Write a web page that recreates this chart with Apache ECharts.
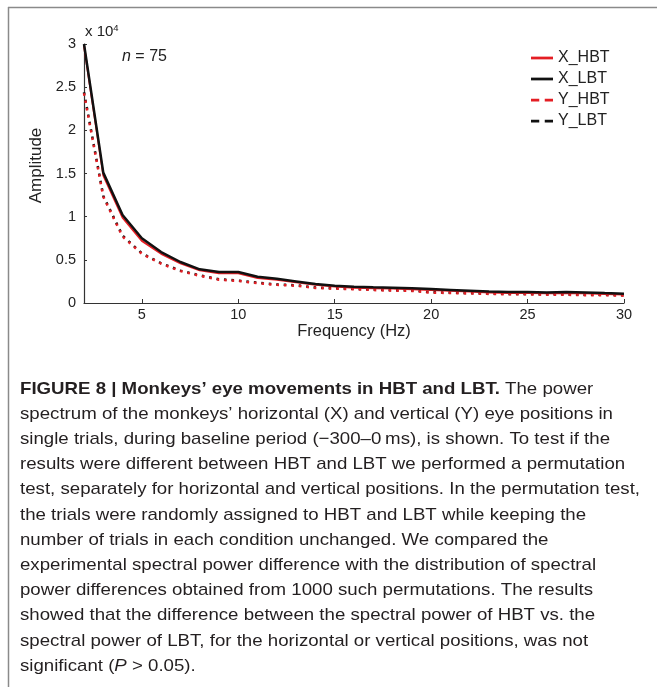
<!DOCTYPE html>
<html>
<head>
<meta charset="utf-8">
<script src="https://cdn.jsdelivr.net/npm/echarts@6/dist/echarts.min.js"></script>
<style>
  html, body { margin: 0; padding: 0; background: #fff; }
  #chart { width: 657px; height: 687px; }
</style>
</head>
<body>
<div id="chart"></div>
<script>
// Frequency bins (Hz)
const freq = [2, 3, 4, 5, 6, 7, 8, 9, 10, 11, 12, 13, 14, 15, 16, 17, 18, 19, 20, 21, 22, 23, 24, 25, 26, 27, 28, 29, 30];

// Spectral amplitude, in units of 10^4
const xHBT = [2.98, 1.48, 0.99, 0.72, 0.57, 0.46, 0.38, 0.345, 0.345, 0.29, 0.27, 0.24, 0.21, 0.19, 0.178, 0.172, 0.167, 0.16, 0.152, 0.142, 0.132, 0.122, 0.117, 0.117, 0.113, 0.117, 0.113, 0.105, 0.098];
const xLBT = [3.00, 1.51, 1.02, 0.75, 0.59, 0.475, 0.39, 0.36, 0.36, 0.305, 0.28, 0.25, 0.22, 0.20, 0.188, 0.182, 0.177, 0.17, 0.162, 0.152, 0.142, 0.132, 0.127, 0.127, 0.123, 0.127, 0.123, 0.115, 0.108];
const yHBT = [2.43, 1.23, 0.77, 0.57, 0.455, 0.37, 0.315, 0.27, 0.255, 0.23, 0.21, 0.20, 0.175, 0.165, 0.16, 0.15, 0.143, 0.14, 0.12, 0.115, 0.11, 0.105, 0.10, 0.10, 0.095, 0.095, 0.09, 0.09, 0.085];
const yLBT = [2.44, 1.24, 0.78, 0.575, 0.46, 0.375, 0.32, 0.275, 0.26, 0.235, 0.215, 0.205, 0.18, 0.17, 0.165, 0.155, 0.148, 0.145, 0.125, 0.12, 0.115, 0.11, 0.105, 0.105, 0.10, 0.10, 0.095, 0.095, 0.09];

const seriesNames = ['X_HBT', 'X_LBT', 'Y_HBT', 'Y_LBT'];
const xTicks = [5, 10, 15, 20, 25, 30];
const yTicks = [0, 0.5, 1, 1.5, 2, 2.5, 3];

// Caption, one entry per printed line
const captionLines = [
  '{b|FIGURE 8 | Monkeys’ eye movements in HBT and LBT.}{r| The power}',
  '{r|spectrum of the monkeys’ horizontal (X) and vertical (Y) eye positions in}',
  '{r|single trials, during baseline period (−300–0\u2009ms), is shown. To test if the}',
  '{r|results were different between HBT and LBT we performed a permutation}',
  '{r|test, separately for horizontal and vertical positions. In the permutation test,}',
  '{r|the trials were randomly assigned to HBT and LBT while keeping the}',
  '{r|number of trials in each condition unchanged. We compared the}',
  '{r|experimental spectral power difference with the distribution of spectral}',
  '{r|power differences obtained from 1000 such permutations. The results}',
  '{r|showed that the difference between the spectral power of HBT vs. the}',
  '{r|spectral power of LBT, for the horizontal or vertical positions, was not}',
  '{r|significant (}{i|P}{r| > 0.05).}'
];

const RED = '#e41e24';
const BLACK = '#111';
const FONT = '"Liberation Sans", Arial, sans-serif';
const CAP_SIZE = 17;

// Legend swatches: a solid bar and a two-dash bar
const SOLID_ICON = 'path://M0,0h24v3h-24z';
const DASH_ICON = 'path://M0,0h9v3h-9z M15,0h9v3h-9z';

// Condense the caption so its widest line spans the text column
const ctx = document.createElement('canvas').getContext('2d');
ctx.font = CAP_SIZE + 'px ' + FONT;
const widest = ctx.measureText('test, separately for horizontal and vertical positions. In the permutation test,').width;
const capScale = 620 / widest;

const pairs = (ys) => freq.map((f, i) => [f, ys[i]]);

const captionGraphics = captionLines.map((txt, i) => ({
  type: 'text',
  x: 20,
  y: 389 + i * 25.2,
  scaleX: capScale,
  style: {
    x: 0, y: 0,
    text: txt,
    verticalAlign: 'middle',
    rich: {
      b: { fontFamily: FONT, fontSize: CAP_SIZE, fontWeight: 'bold', fill: '#231f20' },
      r: { fontFamily: FONT, fontSize: CAP_SIZE, fill: '#231f20' },
      i: { fontFamily: FONT, fontSize: CAP_SIZE, fontStyle: 'italic', fill: '#231f20' }
    }
  }
}));

const chart = echarts.init(document.getElementById('chart'), null, { renderer: 'canvas' });

chart.setOption({
  backgroundColor: '#fff',
  animation: false,
  grid: { left: 84, right: 33, top: 44, bottom: 384, containLabel: false },
  xAxis: {
    type: 'value',
    min: 2,
    max: 30,
    name: 'Frequency (Hz)',
    nameLocation: 'middle',
    nameGap: 20,
    nameTextStyle: { fontFamily: FONT, fontSize: 16.5, color: '#222' },
    axisLine: { lineStyle: { color: '#333', width: 1.2 } },
    axisTick: { inside: true, length: 4, customValues: xTicks, lineStyle: { color: '#333' } },
    axisLabel: { customValues: xTicks, fontFamily: FONT, fontSize: 14.5, color: '#222', margin: 4 },
    splitLine: { show: false }
  },
  yAxis: {
    type: 'value',
    min: 0,
    max: 3,
    interval: 0.5,
    name: 'Amplitude',
    nameLocation: 'middle',
    nameGap: 36,
    nameTextStyle: { fontFamily: FONT, fontSize: 17, color: '#222', padding: [0, 0, 0, 16] },
    axisLine: { show: true, lineStyle: { color: '#333', width: 1.2 } },
    axisTick: { show: true, inside: true, length: 3, lineStyle: { color: '#333' } },
    axisLabel: { fontFamily: FONT, fontSize: 14.5, color: '#222', margin: 8, customValues: yTicks },
    splitLine: { show: false }
  },
  legend: {
    orient: 'vertical',
    left: 531,
    top: 50,
    padding: 0,
    itemWidth: 22,
    itemHeight: 3,
    itemGap: 5,
    textStyle: { fontFamily: FONT, fontSize: 16, lineHeight: 15, color: '#222' },
    data: [
      { name: 'X_HBT', icon: SOLID_ICON },
      { name: 'X_LBT', icon: SOLID_ICON },
      { name: 'Y_HBT', icon: DASH_ICON },
      { name: 'Y_LBT', icon: DASH_ICON }
    ]
  },
  series: [
    {
      name: 'Y_LBT', type: 'line', data: pairs(yLBT), symbol: 'none',
      lineStyle: { color: BLACK, width: 2.5, type: [2.5, 5], cap: 'butt' },
      itemStyle: { color: BLACK }
    },
    {
      name: 'Y_HBT', type: 'line', data: pairs(yHBT), symbol: 'none',
      lineStyle: { color: RED, width: 2.5, type: [2.5, 5], cap: 'butt' },
      itemStyle: { color: RED }
    },
    {
      name: 'X_HBT', type: 'line', data: pairs(xHBT), symbol: 'none',
      lineStyle: { color: RED, width: 2, type: 'solid' },
      itemStyle: { color: RED }
    },
    {
      name: 'X_LBT', type: 'line', data: pairs(xLBT), symbol: 'none',
      lineStyle: { color: BLACK, width: 2.5, type: 'solid' },
      itemStyle: { color: BLACK }
    }
  ],
  graphic: [
    // frame around the figure
    { type: 'line', shape: { x1: 8, y1: 7.5, x2: 657, y2: 7.5 }, style: { stroke: '#8a8a8a', lineWidth: 1.5 } },
    { type: 'line', shape: { x1: 8.5, y1: 7, x2: 8.5, y2: 687 }, style: { stroke: '#8a8a8a', lineWidth: 1.5 } },
    // exponent of the amplitude axis
    {
      type: 'text', x: 85, y: 41,
      style: {
        text: '{a|x 10}{s|4}',
        verticalAlign: 'bottom',
        rich: {
          a: { fontFamily: FONT, fontSize: 15, fill: '#222' },
          s: { fontFamily: FONT, fontSize: 9.5, fill: '#222', verticalAlign: 'top', padding: [0, 0, 8, 0] }
        }
      }
    },
    // trial count
    {
      type: 'text', x: 122, y: 57,
      style: {
        text: '{i|n}{r| = 75}',
        verticalAlign: 'middle',
        rich: {
          i: { fontFamily: FONT, fontSize: 16, fontStyle: 'italic', fill: '#222' },
          r: { fontFamily: FONT, fontSize: 16, fill: '#222' }
        }
      }
    }
  ].concat(captionGraphics)
});
</script>
</body>
</html>
